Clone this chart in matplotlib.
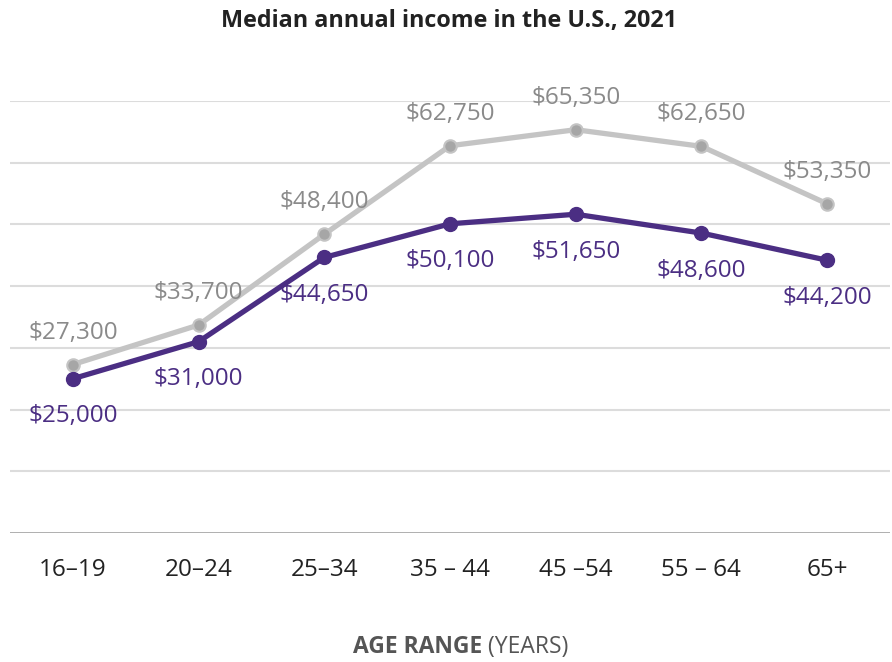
import matplotlib.pyplot as plt

plt.rcParams['font.family'] = ['Open Sans', 'DejaVu Sans']

ages = ['16–19', '20–24', '25–34', '35 – 44', '45 –54', '55 – 64', '65+']
income_gray = [27300, 33700, 48400, 62750, 65350, 62650, 53350]
income_purple = [25000, 31000, 44650, 50100, 51650, 48600, 44200]

purple = '#4b2e83'
gray_line = '#c4c4c4'
gray_dot = '#a6a6a6'
gray_text = '#8a8a8a'

fig = plt.figure(figsize=(8.92, 6.62), dpi=100)
ax = fig.add_axes([10 / 892, 1 - 533 / 662, 880 / 892, 432 / 662])

x = list(range(len(ages)))

# grid lines every 10k, baseline darker
for v in range(10000, 80000, 10000):
    ax.axhline(v, color='#dcdcdc', lw=1.5, zorder=0)
ax.axhline(0, color='#a8a8a8', lw=2, zorder=0)

ax.plot(x, income_gray, color=gray_line, lw=3.8, marker='o', ms=9,
        mfc=gray_dot, mec=gray_line, mew=1.5, zorder=2)
ax.plot(x, income_purple, color=purple, lw=3.8, marker='o', ms=10,
        mfc=purple, mec=purple, zorder=3)

for i in x:
    ax.annotate(f'${income_gray[i]:,}', (i, income_gray[i]), xytext=(0, 23),
                textcoords='offset points', ha='center', va='center',
                fontsize=17.5, color=gray_text)
    ax.annotate(f'${income_purple[i]:,}', (i, income_purple[i]), xytext=(0, -27),
                textcoords='offset points', ha='center', va='center',
                fontsize=17.5, color=purple)

ax.set_xlim(-0.5, 6.5)
ax.set_ylim(0, 70000)
ax.set_yticks([])
ax.set_xticks(x)
ax.set_xticklabels(ages, fontsize=17.5, color='#222222')
ax.tick_params(axis='x', length=0, pad=18)
for s in ax.spines.values():
    s.set_visible(False)

fig.text(449 / 892, 1 - 21 / 662, 'Median annual income in the U.S., 2021',
         ha='center', va='center', fontsize=16.8, fontweight='bold', color='#222222')

t1 = fig.text(482 / 892, 1 - 647 / 662, 'AGE RANGE', ha='right', va='center',
              fontsize=16.5, fontweight='bold', color='#555555')
ax.annotate(' (YEARS)', xy=(1, 0), xycoords=t1, ha='left', va='bottom',
            fontsize=16.5, color='#555555')

fig.savefig('out.png', dpi=100)
